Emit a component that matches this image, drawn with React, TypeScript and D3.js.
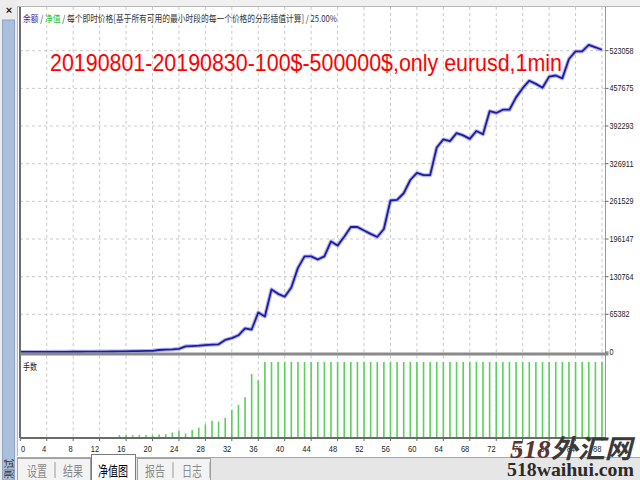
import React from 'react'
import * as d3 from 'd3'

// balance per trade number
const equity = [
  100, 100, 150, 150, 200, 250, 300, 350, 400, 450,
  500, 600, 700, 800, 900, 1000, 1200, 1400, 1600, 1800,
  2000, 3500, 4000, 4500, 5500, 9800, 10300, 10900, 12000, 12800,
  13300, 21000, 24000, 29000, 41000, 39000, 68500, 61600, 108700, 101000,
  96000, 112000, 146000, 166000, 166000, 160500, 166000, 192000, 184700, 200000,
  217000, 217000, 211000, 205000, 199700, 213500, 263000, 264000, 275600, 298600,
  311000, 307000, 307000, 355000, 369000, 366000, 380000, 376000, 370000, 383700,
  378000, 418000, 415000, 420600, 420600, 442000, 458000, 471000, 465500, 458600,
  478000, 480000, 475000, 508600, 521800, 522000, 533000, 529000, 524700,
]

// lots per trade
const lots = [
  0, 0, 0, 0, 0, 0, 0, 0, 0, 0,
  0, 0, 0, 0, 0, 1.5, 1.5, 1.5, 1.5, 1.5,
  1.5, 2, 2.2, 3.3, 4.5, 2.7, 4.9, 6.5, 8.7, 11.1,
  10.5, 13.1, 18.2, 21.5, 26.7, 42, 37.8, 50, 50, 50,
  50, 50, 50, 50, 50, 50, 50, 50, 50, 50,
  50, 50, 50, 50, 50, 50, 50, 50, 50, 50,
  50, 50, 50, 50, 50, 50, 50, 50, 50, 50,
  50, 50, 50, 50, 50, 50, 50, 50, 50, 50,
  50, 50, 50, 50, 50, 50, 50, 50, 50,
]

const yTicks = [0, 65382, 130764, 196147, 261529, 326911, 392293, 457675, 523058]
const xTicks = [0, 4, 8, 12, 16, 20, 24, 28, 32, 36, 40, 44, 48, 52, 56, 60, 64, 68, 72, 76, 80, 84, 88]
const tabs = ['设置', '结果', '净值图', '报告', '日志']
const title = '20190801-20190830-100$-500000$,only eurusd,1min'
const header = '每个即时价格[基于所有可用的最小时段的每一个价格的分形插值计算] / 25.00%'

const plotL = 20
const plotR = 605.5
const upTop = 7
const upBottom = 352.5
const lowTop = 355.5
const lowBottom = 438

const x = d3.scaleLinear().domain([0, 88]).range([20.3, 602])
const y = d3.scaleLinear().domain([0, 523058]).range([352, 50.7])
const yLot = d3.scaleLinear().domain([0, 50]).range([437.5, 362])

const cjk = '"Noto Sans CJK SC", sans-serif'
const sans = '"Liberation Sans", Arial, sans-serif'

export default function App() {
  const line = d3.line<number>().x((_, i) => x(i)).y(d => y(d))
  const path = line(equity) || ''

  const tabPos = [37, 73, 113, 155, 192]

  return (
    <div style={{ position: 'fixed', left: 0, top: 0 }}>
      <svg width={640} height={480} style={{ display: 'block', background: '#fff' }}>
        {/* left strip */}
        <rect x={0} y={0} width={17} height={480} fill="#ececec" />
        <rect x={2.5} y={20} width={12} height={460} fill="#a9bfdc" stroke="#8ea5c6" />
        <text x={9} y={14} fontSize={11} fontWeight="bold" textAnchor="middle" fontFamily={sans} fill="#222">×</text>
        <text transform="translate(12.5,479) rotate(-90)" fontSize={10} fontFamily={cjk} fill="#333">测试</text>
        <rect x={17} y={0} width={623} height={6} fill="#f0f0f0" />
        <line x1={17.5} x2={17.5} y1={6} y2={456} stroke="#b8b8b8" />
        <line x1={17} x2={640} y1={6.5} y2={6.5} stroke="#b8b8b8" />

        {/* grid */}
        {yTicks.filter(t => t > 0).map(t => (
          <line key={'gy' + t} x1={plotL} x2={plotR} y1={y(t)} y2={y(t)}
            stroke="#c9c9c9" strokeDasharray="3,3" />
        ))}
        {xTicks.filter(t => t > 0).map(t => (
          <g key={'gx' + t}>
            <line x1={x(t)} x2={x(t)} y1={upTop} y2={upBottom} stroke="#c9c9c9" strokeDasharray="3,3" />
            <line x1={x(t)} x2={x(t)} y1={lowTop} y2={lowBottom} stroke="#c9c9c9" strokeDasharray="3,3" />
          </g>
        ))}

        {/* header */}
        <text x={23} y={21.5} fontSize={9.5} fontFamily={cjk} textLength={314} lengthAdjust="spacingAndGlyphs">
          <tspan fill="#2b2bb5">余额</tspan>
          <tspan fill="#333"> / </tspan>
          <tspan fill="#1fbf1f">净值</tspan>
          <tspan fill="#333"> / {header}</tspan>
        </text>

        {/* equity curve */}
        <path d={path} fill="none" stroke="#b4b4ec" strokeWidth={4} strokeLinejoin="round" />
        <path d={path} fill="none" stroke="#1c1ca2" strokeWidth={1.8} strokeLinejoin="round" />

        {/* lots bars */}
        {lots.map((v, i) => v > 0 ? (
          <rect key={'b' + i} x={x(i) - 0.8} y={yLot(v)} width={1.6} height={yLot(0) - yLot(v)} fill="#5ccf5c" />
        ) : null)}
        <text x={23} y={370} fontSize={9} fontFamily={cjk} fill="#222" textLength={14} lengthAdjust="spacingAndGlyphs">手数</text>

        {/* frame */}
        <line x1={plotL} x2={plotL} y1={upTop} y2={lowBottom} stroke="#6e6e6e" strokeWidth={2} />
        <line x1={plotR} x2={plotR} y1={upTop} y2={lowBottom} stroke="#9a9a9a" />
        <rect x={plotL} y={upBottom} width={plotR - plotL + 3} height={3} fill="#8a8a8a" />
        <line x1={plotL} x2={plotR} y1={lowBottom} y2={lowBottom} stroke="#6a6a6a" strokeWidth={2} />

        {/* y axis */}
        {yTicks.map(t => (
          <g key={'yl' + t}>
            <line x1={plotR} x2={plotR + 3} y1={y(t)} y2={y(t)} stroke="#666" />
            <text x={609.5} y={y(t) + 3} fontSize={9.5} fontFamily={sans} fill="#222"
              textLength={String(t).length * 4} lengthAdjust="spacingAndGlyphs">{t}</text>
          </g>
        ))}

        {/* x axis */}
        {xTicks.map(t => (
          <g key={'xl' + t}>
            <line x1={x(t)} x2={x(t)} y1={lowBottom} y2={lowBottom + 3} stroke="#666" />
            <text x={t === 0 ? 21 : x(t) - 0.5} y={451.5} fontSize={9.5} fontFamily={sans} fill="#222"
              textAnchor={t === 0 ? 'start' : 'end'}
              textLength={String(t).length * 4.2} lengthAdjust="spacingAndGlyphs">{t}</text>
          </g>
        ))}

        {/* tab bar */}
        <rect x={17} y={457} width={623} height={23} fill="#e6e6e6" />
        <line x1={17} x2={640} y1={457.5} y2={457.5} stroke="#a8a8a8" />
        <rect x={17.5} y={458.5} width={73} height={22} fill="#f3f3f3" stroke="#a0a0a0" />
        <rect x={137.5} y={458.5} width={73} height={22} fill="#f3f3f3" stroke="#a0a0a0" />
        <rect x={91.5} y={454.5} width={44} height={26} fill="#fff" stroke="#7a7a7a" />
        {[55, 173, 210].map(p => (
          <line key={'sep' + p} x1={p} x2={p} y1={462} y2={478} stroke="#999" />
        ))}
        {tabs.map((t, i) => (
          <text key={t} x={tabPos[i]} y={476} fontSize={14} fontFamily={cjk} textAnchor="middle"
            fill={i === 2 ? '#000' : '#8a8a8a'} textLength={t.length * 10} lengthAdjust="spacingAndGlyphs">{t}</text>
        ))}

        {/* title */}
        <text x={50} y={71} fontSize={24.5} fontFamily={sans} fill="#ff0000" textLength={512} lengthAdjust="spacingAndGlyphs">{title}</text>

        {/* watermark */}
        <text x={510} y={458} fontSize={26} fontStyle="italic" fontWeight="bold" fontFamily={cjk}
          textLength={122} lengthAdjust="spacingAndGlyphs">
          <tspan fill="#5a3434" fontFamily='"Liberation Serif", serif'>518</tspan>
          <tspan fill="#3a3a3a">外汇网</tspan>
        </text>
        <text x={507} y={475.5} fontSize={19} fontWeight="bold" fontFamily='"Liberation Serif", serif' fill="#2a2a2a"
          textLength={127} lengthAdjust="spacingAndGlyphs">518waihui.com</text>
      </svg>
    </div>
  )
}
